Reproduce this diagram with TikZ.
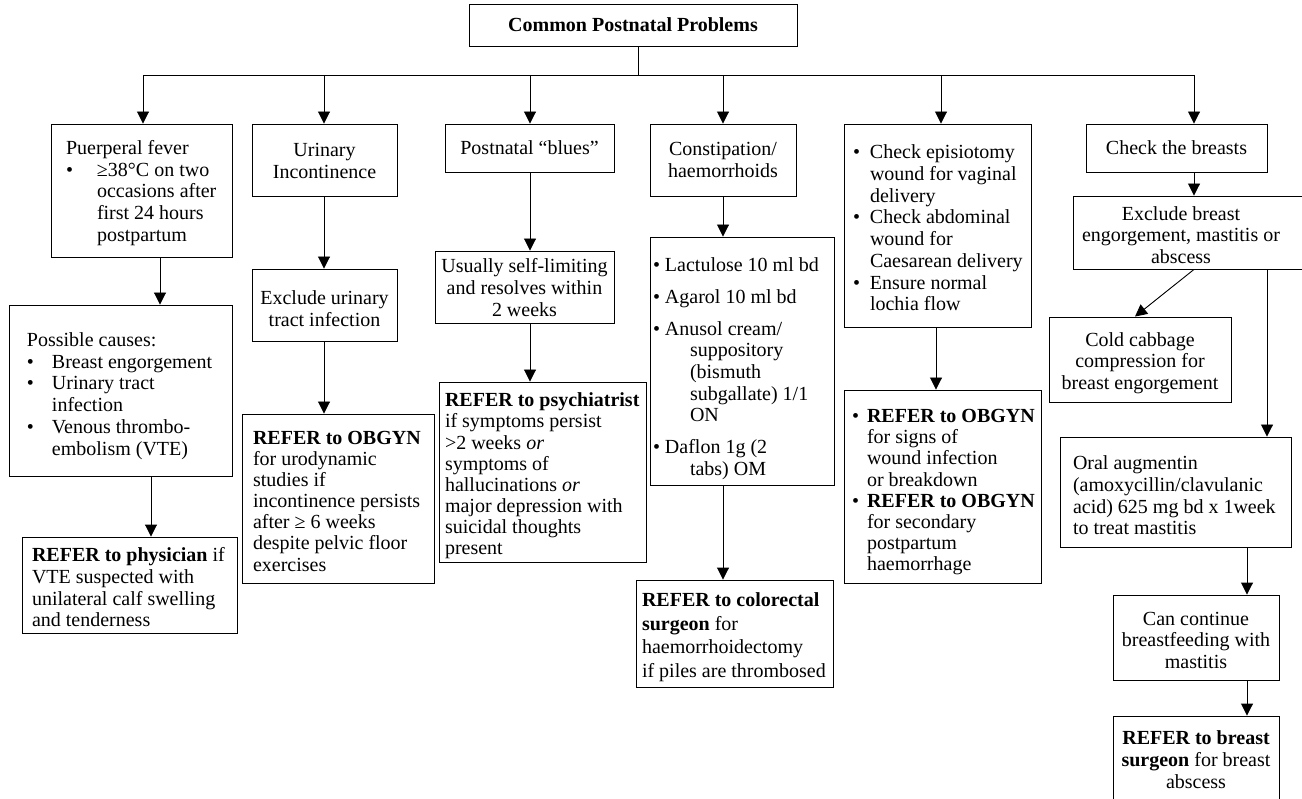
\documentclass[tikz,border=0pt]{standalone}
\usepackage{fontspec}
\setmainfont{Liberation Serif}
\usetikzlibrary{arrows.meta}

% left-aligned block of lines, set #3 in from the left of a #2-wide box, lowered by #1
\newcommand{\padlines}[4][5pt]{\raisebox{-#1}[\height][\depth]{\makebox[#2][l]{\hspace*{#3}\begin{tabular}{@{}l@{}}#4\end{tabular}}}}
% centred block of lines, lowered by #1
\newcommand{\ctrlines}[2][5pt]{\raisebox{-#1}[\height][\depth]{\begin{tabular}{@{}c@{}}#2\end{tabular}}}
% list bullet
\newcommand{\listdot}{\textbullet}

\begin{document}
\begin{tikzpicture}[x=1pt, y=-1pt,
  box/.style={draw, line width=0.9pt, inner sep=0pt, font=\fontsize{20}{21.7}\selectfont},
  arr/.style={line width=0.9pt, -{Triangle[length=12pt,width=12pt]}},
  link/.style={line width=0.9pt}]

\useasboundingbox (0,0) rectangle (1302,799);

% title
\node[box, minimum width=328pt, minimum height=42pt] (top) at (633,25)
  {\ctrlines[2pt]{\textbf{Common Postnatal Problems}}};

% first row
\node[box, minimum width=181pt, minimum height=133pt] (pf) at (141.5,190.5)
  {\padlines[3pt]{181pt}{15pt}{Puerperal fever\\
   \makebox[31pt][l]{\listdot}≥38°C on two\\
   \hspace*{31pt}occasions after\\
   \hspace*{31pt}first 24 hours\\
   \hspace*{31pt}postpartum}};

\node[box, minimum width=145pt, minimum height=72pt] (ui) at (324.5,160)
  {\ctrlines[3pt]{Urinary\\Incontinence}};

\node[box, minimum width=169pt, minimum height=48pt] (pb) at (529.5,148)
  {Postnatal “blues”};

\node[box, minimum width=146pt, minimum height=72pt] (ch) at (723,160)
  {\ctrlines[2pt]{Constipation/\\haemorrhoids}};

\node[box, minimum width=187pt, minimum height=203pt] (wc) at (937.5,225.5)
  {\padlines[5pt]{187pt}{9pt}{%
   \makebox[17pt][l]{\listdot}Check episiotomy\\
   \hspace*{17pt}wound for vaginal\\
   \hspace*{17pt}delivery\\
   \makebox[17pt][l]{\listdot}Check abdominal\\
   \hspace*{17pt}wound for\\
   \hspace*{17pt}Caesarean delivery\\
   \makebox[17pt][l]{\listdot}Ensure normal\\
   \hspace*{17pt}lochia flow}};

\node[box, minimum width=181pt, minimum height=48pt] (cb) at (1176.5,148)
  {Check the breasts};

% puerperal fever branch
\node[box, minimum width=223pt, minimum height=171pt] (pc) at (120.5,390.5)
  {\padlines[6pt]{223pt}{18pt}{Possible causes:\\
   \makebox[25pt][l]{\listdot}Breast engorgement\\
   \makebox[25pt][l]{\listdot}Urinary tract\\
   \hspace*{25pt}infection\\
   \makebox[25pt][l]{\listdot}Venous thrombo-\\
   \hspace*{25pt}embolism (VTE)}};

\node[box, minimum width=215pt, minimum height=96pt] (phy) at (129.5,585)
  {\padlines[5pt]{215pt}{10pt}{\textbf{REFER to physician} if\\
   VTE suspected with\\
   unilateral calf swelling\\
   and tenderness}};

% urinary incontinence branch
\node[box, minimum width=145pt, minimum height=72pt] (uti) at (324.5,305)
  {\ctrlines[6pt]{Exclude urinary\\tract infection}};

\node[box, font=\fontsize{20}{21.1}\selectfont, minimum width=192pt, minimum height=169pt] (obg) at (338,498.5)
  {\padlines[5pt]{192pt}{11pt}{\textbf{REFER to OBGYN}\\
   for urodynamic\\
   studies if\\
   incontinence persists\\
   after ≥ 6 weeks\\
   despite pelvic floor\\
   exercises}};

% postnatal blues branch
\node[box, minimum width=179pt, minimum height=72pt] (usl) at (524.5,287)
  {\ctrlines[3pt]{Usually self-limiting\\and resolves within\\2 weeks}};

\node[box, font=\fontsize{20}{21.1}\selectfont, minimum width=207pt, minimum height=180pt] (psy) at (542.5,472)
  {\padlines[4.5pt]{207pt}{6pt}{\textbf{REFER to psychiatrist}\\
   if symptoms persist\\
   >2 weeks \textit{or}\\
   symptoms of\\
   hallucinations \textit{or}\\
   major depression with\\
   suicidal thoughts\\
   present}};

% constipation branch
\node[box, minimum width=184pt, minimum height=248pt] (lst) at (742,361)
  {\padlines[8pt]{184pt}{3pt}{%
   \listdot\ Lactulose 10 ml bd\\[10.3pt]
   \listdot\ Agarol 10 ml bd\\[10.3pt]
   \listdot\ Anusol cream/\\
   \hspace*{37pt}suppository\\
   \hspace*{37pt}(bismuth\\
   \hspace*{37pt}subgallate) 1/1\\
   \hspace*{37pt}ON\\[10.3pt]
   \listdot\ Daflon 1g (2\\
   \hspace*{37pt}tabs) OM}};

\node[box, font=\fontsize{20}{23.5}\selectfont, minimum width=197pt, minimum height=107pt] (col) at (734.5,633.5)
  {\padlines[4pt]{197pt}{6pt}{\textbf{REFER to colorectal}\\
   \textbf{surgeon} for\\
   haemorrhoidectomy\\
   if piles are thrombosed}};

% wound branch
\node[box, font=\fontsize{20}{21.2}\selectfont, minimum width=197pt, minimum height=193pt] (rob) at (942.5,486.5)
  {\padlines[6pt]{197pt}{8pt}{%
   \makebox[15pt][l]{\listdot}\textbf{REFER to OBGYN}\\
   \hspace*{15pt}for signs of\\
   \hspace*{15pt}wound infection\\
   \hspace*{15pt}or breakdown\\
   \makebox[15pt][l]{\listdot}\textbf{REFER to OBGYN}\\
   \hspace*{15pt}for secondary\\
   \hspace*{15pt}postpartum\\
   \hspace*{15pt}haemorrhage}};

% breast branch (the exclusion box runs off the right edge)
\node[box, minimum width=237pt, minimum height=73pt] (ex) at (1191.5,232.5)
  {\makebox[237pt][l]{\makebox[216pt]{\ctrlines[5pt]{Exclude breast\\engorgement, mastitis or\\abscess}}}};

\node[box, minimum width=182pt, minimum height=85pt] (cc) at (1140,359.5)
  {\ctrlines[4pt]{Cold cabbage\\compression for\\breast engorgement}};

\node[box, minimum width=231pt, minimum height=110pt] (oa) at (1175.5,492)
  {\padlines[6pt]{231pt}{13pt}{Oral augmentin\\
   (amoxycillin/clavulanic\\
   acid) 625 mg bd x 1week\\
   to treat mastitis}};

\node[box, minimum width=166pt, minimum height=85pt] (cn) at (1196,637.5)
  {\ctrlines[5pt]{Can continue\\breastfeeding with\\mastitis}};

\node[box, minimum width=166pt, minimum height=90pt] (bs) at (1196,761)
  {\ctrlines[1pt]{\textbf{REFER to breast}\\\textbf{surgeon} for breast\\abscess}};

% connector guide positions
\coordinate (bus) at (0,75);
\coordinate (x0) at (638,0);
\coordinate (xa) at (143,0);
\coordinate (xb) at (324,0);
\coordinate (xc) at (530,0);
\coordinate (xd) at (723,0);
\coordinate (xe) at (941,0);
\coordinate (xf) at (1194,0);
\coordinate (x1) at (160,0);
\coordinate (x1b) at (151,0);
\coordinate (x5) at (936,0);
\coordinate (xcc) at (1135,0);
\coordinate (xo) at (1267,0);
\coordinate (xn) at (1247,0);

% distribution bus
\draw[link] (top.south -| x0) -- (bus -| x0);
\draw[link] (bus -| xa) -- (bus -| xf);
\draw[arr] (bus -| xa) -- (pf.north -| xa);
\draw[arr] (bus -| xb) -- (ui.north -| xb);
\draw[arr] (bus -| xc) -- (pb.north -| xc);
\draw[arr] (bus -| xd) -- (ch.north -| xd);
\draw[arr] (bus -| xe) -- (wc.north -| xe);
\draw[arr] (bus -| xf) -- (cb.north -| xf);

% branch chains
\draw[arr] (pf.south -| x1) -- (pc.north -| x1);
\draw[arr] (pc.south -| x1b) -- (phy.north -| x1b);
\draw[arr] (ui.south -| xb) -- (uti.north -| xb);
\draw[arr] (uti.south -| xb) -- (obg.north -| xb);
\draw[arr] (pb.south -| xc) -- (usl.north -| xc);
\draw[arr] (usl.south -| xc) -- (psy.north -| xc);
\draw[arr] (ch.south -| xd) -- (lst.north -| xd);
\draw[arr] (lst.south -| xd) -- (col.north -| xd);
\draw[arr] (wc.south -| x5) -- (rob.north -| x5);
\draw[arr] (cb.south -| xf) -- (ex.north -| xf);
\draw[arr] (ex.south -| xf) -- (cc.north -| xcc);
\draw[arr] (ex.south -| xo) -- (oa.north -| xo);
\draw[arr] (oa.south -| xn) -- (cn.north -| xn);
\draw[arr] (cn.south -| xn) -- (bs.north -| xn);

\end{tikzpicture}
\end{document}
